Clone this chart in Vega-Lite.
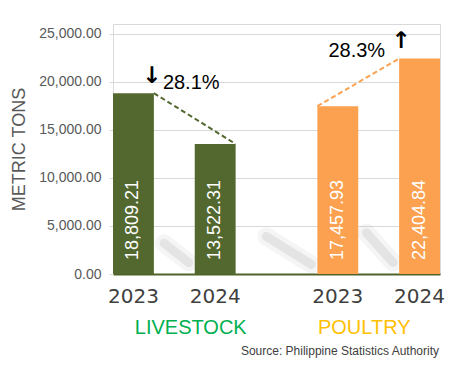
{
  "$schema": "https://vega.github.io/schema/vega-lite/v6.json",
  "width": 327,
  "height": 250,
  "autosize": "none",
  "padding": {"left": 113, "top": 24, "right": 18, "bottom": 94},
  "background": "white",
  "config": {"view": {"stroke": "#d9d9d9", "strokeWidth": 1}, "font": "Liberation Sans"},
  "data": {
    "values": [
      {"group": "LIVESTOCK", "year": "2023", "key": "LIVESTOCK 2023", "value": 18809.21},
      {"group": "LIVESTOCK", "year": "2024", "key": "LIVESTOCK 2024", "value": 13522.31},
      {"group": "POULTRY", "year": "2023", "key": "POULTRY 2023", "value": 17457.93},
      {"group": "POULTRY", "year": "2024", "key": "POULTRY 2024", "value": 22404.84}
    ]
  },
  "encoding": {
    "x": {
      "field": "key",
      "type": "nominal",
      "scale": {
        "domain": ["LIVESTOCK 2023", "gap1", "LIVESTOCK 2024", "gap2", "gap3", "POULTRY 2023", "gap4", "POULTRY 2024"],
        "paddingInner": 0,
        "paddingOuter": 0
      },
      "axis": {
        "title": null,
        "labelAngle": 0,
        "labelExpr": "indexof(datum.value, ' 20') > 0 ? split(datum.value, ' ')[1] : ''",
        "labelFont": "DejaVu Sans",
        "labelFontSize": 20,
        "labelColor": "#404040",
        "labelPadding": 12,
        "ticks": false,
        "grid": false,
        "domainColor": "#4F6228",
        "domainWidth": 2
      }
    }
  },
  "layer": [
    {
      "data": {"values": [{"k": "gap1"}]},
      "mark": {"type": "rule", "color": "#808080", "opacity": 0.08, "strokeWidth": 18, "strokeCap": "round"},
      "encoding": {
        "x": {"datum": "gap1", "bandPosition": 0.25},
        "x2": {"datum": "gap1", "bandPosition": 0.85},
        "y": {"datum": 3200},
        "y2": {"datum": 1200}
      }
    },
    {
      "data": {"values": [{"k": "gap1"}]},
      "mark": {"type": "rule", "color": "#808080", "opacity": 0.14, "strokeWidth": 9, "strokeCap": "round"},
      "encoding": {
        "x": {"datum": "gap1", "bandPosition": 0.25},
        "x2": {"datum": "gap1", "bandPosition": 0.85},
        "y": {"datum": 3200},
        "y2": {"datum": 1200}
      }
    },
    {
      "data": {"values": [{"k": "gap2"}]},
      "mark": {"type": "rule", "color": "#808080", "opacity": 0.08, "strokeWidth": 18, "strokeCap": "round"},
      "encoding": {
        "x": {"datum": "gap2", "bandPosition": 0.75},
        "x2": {"datum": "gap3", "bandPosition": 0.85},
        "y": {"datum": 3900},
        "y2": {"datum": 1000}
      }
    },
    {
      "data": {"values": [{"k": "gap2"}]},
      "mark": {"type": "rule", "color": "#808080", "opacity": 0.14, "strokeWidth": 9, "strokeCap": "round"},
      "encoding": {
        "x": {"datum": "gap2", "bandPosition": 0.75},
        "x2": {"datum": "gap3", "bandPosition": 0.85},
        "y": {"datum": 3900},
        "y2": {"datum": 1000}
      }
    },
    {
      "data": {"values": [{"k": "gap4"}]},
      "mark": {"type": "rule", "color": "#808080", "opacity": 0.08, "strokeWidth": 18, "strokeCap": "round"},
      "encoding": {
        "x": {"datum": "gap4", "bandPosition": 0.2},
        "x2": {"datum": "gap4", "bandPosition": 0.85},
        "y": {"datum": 4300},
        "y2": {"datum": 1200}
      }
    },
    {
      "data": {"values": [{"k": "gap4"}]},
      "mark": {"type": "rule", "color": "#808080", "opacity": 0.14, "strokeWidth": 9, "strokeCap": "round"},
      "encoding": {
        "x": {"datum": "gap4", "bandPosition": 0.2},
        "x2": {"datum": "gap4", "bandPosition": 0.85},
        "y": {"datum": 4300},
        "y2": {"datum": 1200}
      }
    },
    {
      "mark": {"type": "bar"},
      "encoding": {
        "y": {
          "field": "value",
          "type": "quantitative",
          "scale": {"domain": [0, 25000]},
          "axis": {
            "values": [0, 5000, 10000, 15000, 20000, 25000],
            "format": ",.2f",
            "grid": true,
            "gridColor": "#d9d9d9",
            "domain": false,
            "tickColor": "#d9d9d9",
            "tickSize": 4,
            "labelFontSize": 14,
            "labelColor": "#595959",
            "labelPadding": 8,
            "title": "METRIC TONS",
            "titleFontSize": 18,
            "titleFontWeight": "normal",
            "titleColor": "#595959",
            "titlePadding": 10
          }
        },
        "color": {
          "condition": {"test": "datum.group === 'LIVESTOCK'", "value": "#53682F"},
          "value": "#FBA14F"
        }
      }
    },
    {
      "mark": {"type": "text", "angle": -90, "align": "left", "baseline": "middle", "dx": 14, "fontSize": 18, "color": "white"},
      "encoding": {
        "y": {"datum": 0},
        "text": {"field": "value", "type": "quantitative", "format": ",.2f"}
      }
    },
    {
      "transform": [{"filter": "datum.group === 'LIVESTOCK'"}],
      "mark": {"type": "line", "strokeDash": [5, 3], "strokeWidth": 2, "color": "#53682F"},
      "encoding": {
        "x": {"field": "key", "type": "nominal", "bandPosition": 1},
        "y": {"field": "value", "type": "quantitative"}
      }
    },
    {
      "transform": [{"filter": "datum.group === 'POULTRY'"}],
      "mark": {"type": "line", "strokeDash": [5, 3], "strokeWidth": 2, "color": "#FBA14F"},
      "encoding": {
        "x": {"field": "key", "type": "nominal", "bandPosition": 0},
        "y": {"field": "value", "type": "quantitative"}
      }
    },
    {
      "data": {"values": [{"key": "LIVESTOCK 2023", "label": "28.1%"}]},
      "mark": {"type": "text", "align": "left", "baseline": "middle", "dx": 9, "fontSize": 20, "color": "black"},
      "encoding": {
        "x": {"field": "key", "type": "nominal", "bandPosition": 1},
        "y": {"datum": 19900},
        "text": {"field": "label"}
      }
    },
    {
      "data": {"values": [{"key": "LIVESTOCK 2023", "label": "↓"}]},
      "mark": {"type": "text", "align": "center", "baseline": "middle", "dx": -2, "fontSize": 23, "font": "DejaVu Sans", "fontWeight": "bold", "color": "black"},
      "encoding": {
        "x": {"field": "key", "type": "nominal", "bandPosition": 1},
        "y": {"datum": 20600},
        "text": {"field": "label"}
      }
    },
    {
      "data": {"values": [{"key": "POULTRY 2024", "label": "28.3%"}]},
      "mark": {"type": "text", "align": "right", "baseline": "middle", "dx": -14, "fontSize": 20, "color": "black"},
      "encoding": {
        "x": {"field": "key", "type": "nominal", "bandPosition": 0},
        "y": {"datum": 23230},
        "text": {"field": "label"}
      }
    },
    {
      "data": {"values": [{"key": "POULTRY 2024", "label": "↑"}]},
      "mark": {"type": "text", "align": "center", "baseline": "middle", "dx": 2, "fontSize": 23, "font": "DejaVu Sans", "fontWeight": "bold", "color": "black"},
      "encoding": {
        "x": {"field": "key", "type": "nominal", "bandPosition": 0},
        "y": {"datum": 24200},
        "text": {"field": "label"}
      }
    },
    {
      "data": {"values": [{"key": "LIVESTOCK 2024", "label": "LIVESTOCK"}]},
      "mark": {"type": "text", "align": "center", "baseline": "middle", "dx": -4, "dy": 54, "fontSize": 20, "color": "#00B050"},
      "encoding": {
        "x": {"field": "key", "type": "nominal", "bandPosition": 0},
        "y": {"datum": 0},
        "text": {"field": "label"}
      }
    },
    {
      "data": {"values": [{"key": "POULTRY 2023", "label": "POULTRY"}]},
      "mark": {"type": "text", "align": "center", "baseline": "middle", "dx": 6, "dy": 54, "fontSize": 20, "color": "#FFC000"},
      "encoding": {
        "x": {"field": "key", "type": "nominal", "bandPosition": 1},
        "y": {"datum": 0},
        "text": {"field": "label"}
      }
    },
    {
      "data": {"values": [{"key": "POULTRY 2024", "label": "Source: Philippine Statistics Authority"}]},
      "mark": {"type": "text", "align": "right", "baseline": "middle", "dx": -1, "dy": 77, "fontSize": 12, "color": "#404040"},
      "encoding": {
        "x": {"field": "key", "type": "nominal", "bandPosition": 1},
        "y": {"datum": 0},
        "text": {"field": "label"}
      }
    }
  ]
}
